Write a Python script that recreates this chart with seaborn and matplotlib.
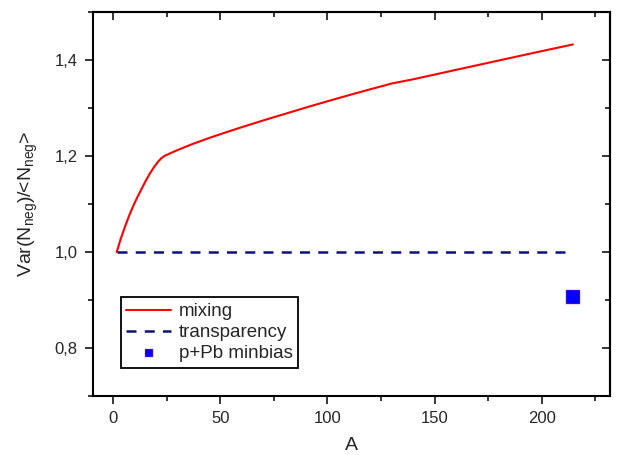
import numpy as np
import pandas as pd
import matplotlib
matplotlib.use("Agg")
import matplotlib.pyplot as plt
from matplotlib.ticker import MultipleLocator, FuncFormatter
import seaborn as sns

# ---- data ----
A_mix = [1.6, 3.5, 5.5, 7.5, 9.3, 11.3, 13.3, 15.2, 17.1, 19, 21.0, 22.5, 24.1, 30,
         37.4, 45, 52.9, 60, 70, 80, 90, 100, 110, 120, 130, 140, 150, 160,
         170, 180, 190, 200, 214.6]
y_mix = [1.0, 1.028, 1.0535, 1.077, 1.096, 1.115, 1.1325, 1.149, 1.164, 1.177, 1.189,
         1.196, 1.201, 1.2128, 1.2261, 1.2383, 1.2502, 1.2605, 1.2745, 1.288, 1.3015,
         1.3145, 1.3272, 1.3395, 1.3515, 1.3603, 1.3701, 1.380, 1.3897, 1.3995, 1.4093,
         1.419, 1.433]
A_tr = [1.6, 214.6]
y_tr = [1.0, 1.0]
A_pb = [214.6]
y_pb = [0.906]

labels = ["mixing", "transparency", "p+Pb minbias"]
xticks_major = 50
yticks_major = 0.2

sns.set_style("white")
plt.rcParams["font.family"] = ["Liberation Sans", "DejaVu Sans"]
plt.rcParams["mathtext.default"] = "regular"

df_mix = pd.DataFrame({"A": A_mix, "v": y_mix})
df_tr = pd.DataFrame({"A": A_tr, "v": y_tr})
df_pb = pd.DataFrame({"A": A_pb, "v": y_pb})

fig = plt.figure(figsize=(6.18, 4.55), dpi=100)
ax = fig.add_axes([0.150, 0.1297, 0.837, 0.8433])

sns.lineplot(data=df_mix, x="A", y="v", ax=ax, color="#ff0000", lw=1.5,
             label=labels[0], sort=False)
sns.lineplot(data=df_tr, x="A", y="v", ax=ax, color="#10107a", lw=1.8,
             linestyle=(0, (4.0, 3.3)), label=labels[1], sort=False)
sns.scatterplot(data=df_pb, x="A", y="v", ax=ax, marker="s", s=105,
                color="#0000ff", edgecolor="#e04080", linewidth=0.3,
                label=labels[2], zorder=5)

ax.set_xlim(-9.6, 231.9)
ax.set_ylim(0.70, 1.50)
ax.xaxis.set_major_locator(MultipleLocator(xticks_major))
ax.xaxis.set_minor_locator(MultipleLocator(25))
ax.yaxis.set_major_locator(MultipleLocator(yticks_major))
ax.yaxis.set_minor_locator(MultipleLocator(0.1))
ax.yaxis.set_major_formatter(FuncFormatter(lambda v, p: f"{v:.1f}".replace(".", ",")))

for s in ax.spines.values():
    s.set_linewidth(1.5)
    s.set_color("black")

ax.tick_params(which="major", direction="out", length=6, width=1.3,
               labelsize=12, pad=5, bottom=True, left=True, top=False, right=False)
ax.tick_params(which="minor", direction="out", length=3.5, width=1.3,
               bottom=True, left=True, top=False, right=False)

secx = ax.secondary_xaxis("top")
secx.xaxis.set_major_locator(MultipleLocator(xticks_major))
secx.xaxis.set_minor_locator(MultipleLocator(25))
secx.tick_params(which="major", direction="in", length=6, width=1.3, labeltop=False)
secx.tick_params(which="minor", direction="in", length=3.5, width=1.3)
secx.spines["top"].set_linewidth(1.5)
secy = ax.secondary_yaxis("right")
secy.yaxis.set_major_locator(MultipleLocator(yticks_major))
secy.yaxis.set_minor_locator(MultipleLocator(0.1))
secy.tick_params(which="major", direction="in", length=6, width=1.3, labelright=False)
secy.tick_params(which="minor", direction="in", length=3.5, width=1.3)
secy.spines["right"].set_linewidth(1.5)

ax.set_xlabel("A", fontsize=14, labelpad=8)
ax.set_ylabel("Var(N$_{neg}$)/<N$_{neg}$>", fontsize=14, labelpad=10)

leg = ax.legend(loc="lower left", bbox_to_anchor=(0.054, 0.074), borderaxespad=0,
                fontsize=13.5, frameon=True, fancybox=False, edgecolor="black",
                framealpha=1, markerscale=0.5, handlelength=2.4, handletextpad=0.4,
                labelspacing=0.2, borderpad=0.3)
leg.get_frame().set_linewidth(1.3)

fig.savefig("out.png", dpi=100)
